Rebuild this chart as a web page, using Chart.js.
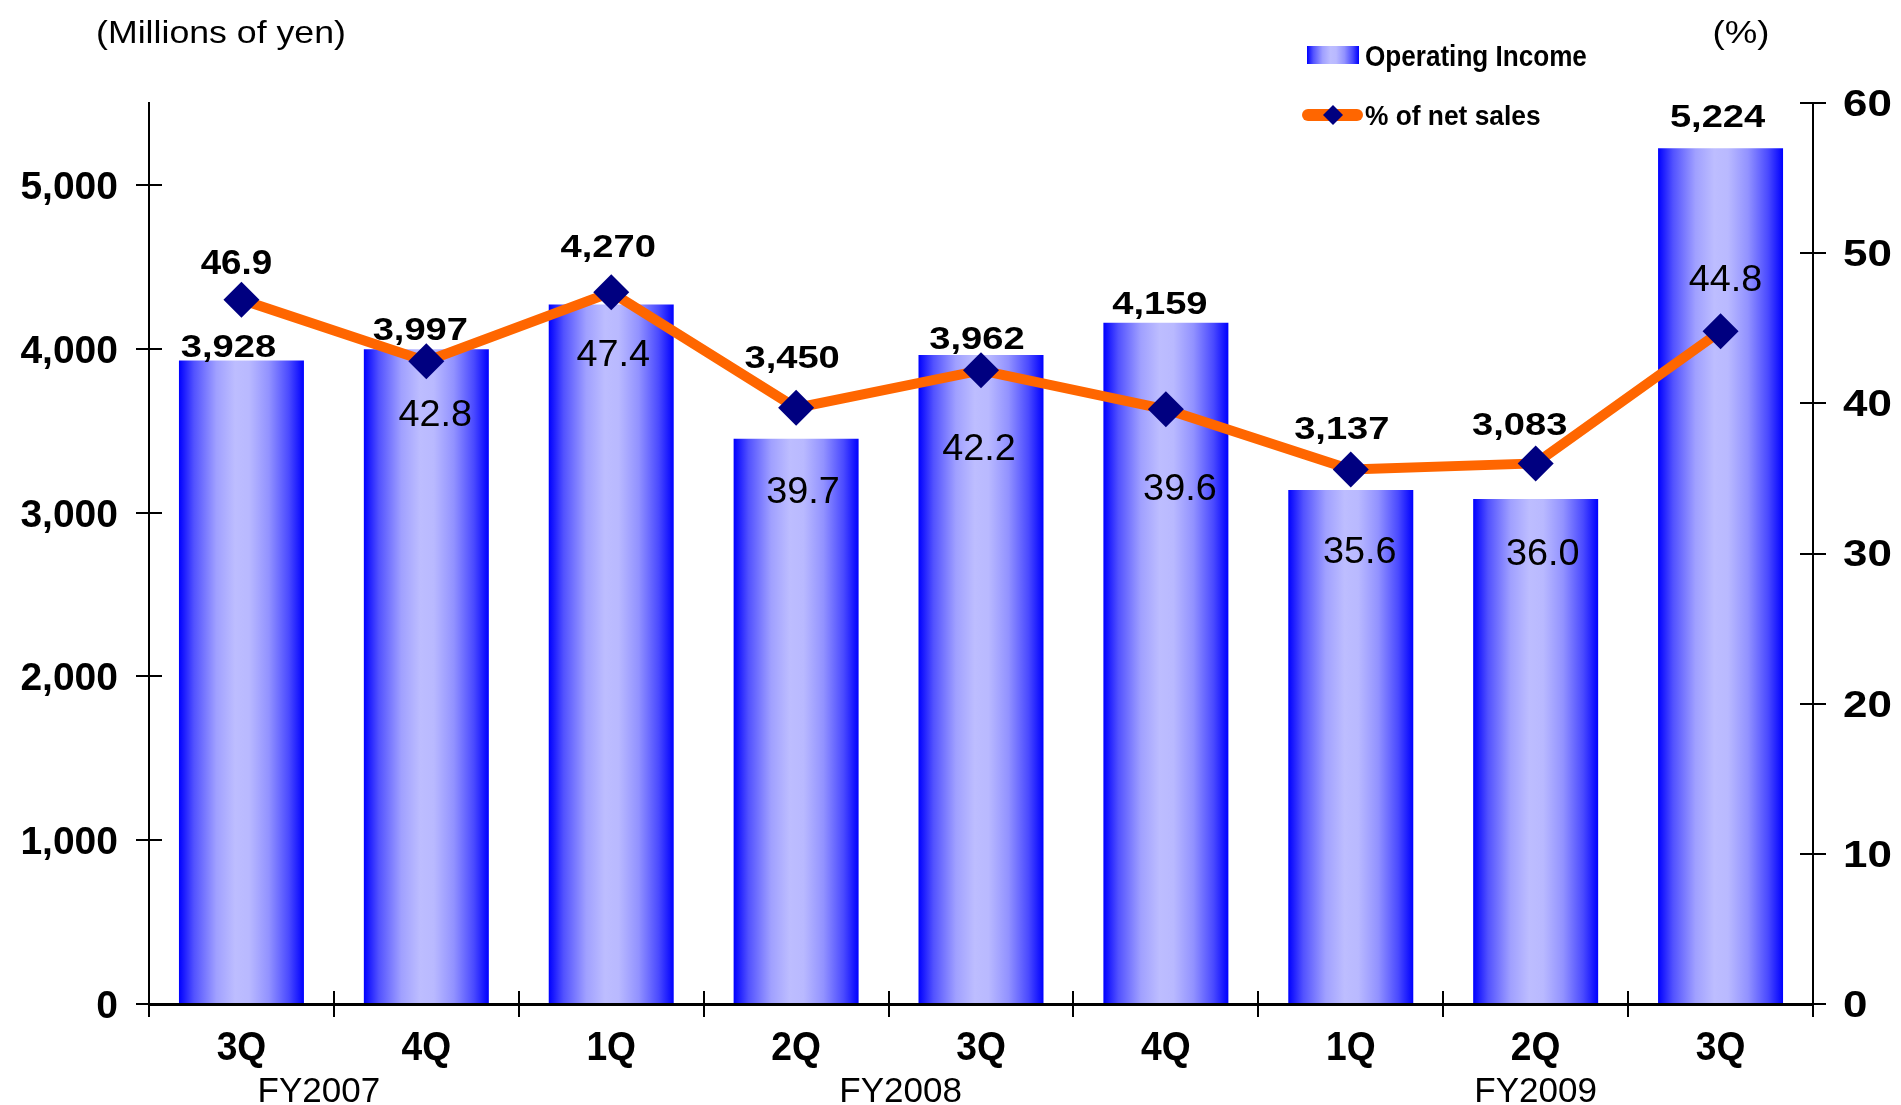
<!DOCTYPE html>
<html>
<head>
<meta charset="utf-8">
<script src="https://cdn.jsdelivr.net/npm/chart.js@4.4.1/dist/chart.umd.min.js"></script>
<style>
  html, body { margin: 0; padding: 0; background: #ffffff; }
  #wrap { width: 1901px; height: 1105px; }
</style>
</head>
<body>
<div id="wrap"><canvas id="c" width="1901" height="1105"></canvas></div>
<script>
// ---------------- data ----------------
const categories = ['3Q', '4Q', '1Q', '2Q', '3Q', '4Q', '1Q', '2Q', '3Q'];
const fiscalYears = ['FY2007', 'FY2008', 'FY2009'];
const fiscalYearFirst = [0, 2, 6];
const fiscalYearLast = [1, 5, 8];
const operatingIncome = [3928, 3997, 4270, 3450, 3962, 4159, 3137, 3083, 5224];
const pctOfNetSales = [46.9, 42.8, 47.4, 39.7, 42.2, 39.6, 35.6, 36.0, 44.8];
const leftAxisMax = 5500;
const leftTickValues = [0, 1000, 2000, 3000, 4000, 5000];
const rightAxisMax = 60;
const rightTickValues = [0, 10, 20, 30, 40, 50, 60];
const seriesNames = ['Operating Income', '% of net sales'];
const unitLeft = '(Millions of yen)';
const unitRight = '(%)';

// ---------------- layout / style (not data) ----------------
const BAR_PCT = 0.676;
const FONT = '"Liberation Sans", Arial, Helvetica, sans-serif';
const barLabelAnchor = ['bar', 'bar', 'point', 'point', 'bar', 'bar', 'point', 'point', 'bar'];
const barLabelDy = [-15, -21, -47, -51, -17, -20, -42, -40, -33];
const barLabelDx = [-13, -6, -3, -4, -4, -6, -9, -16, -3];
const pctLabelDy = [-38, 52, 61, 82, 77, 78, 81, 89, -53];
const pctLabelDx = [-5, 9, 2, 7, -2, 14, 9, 7, 5];
const pctLabelBold = [true, false, false, false, false, false, false, false, false];
const fyDx = [-15, 12, 0];

function barGradient(ctx, x0, x1) {
  const g = ctx.createLinearGradient(x0, 0, x1, 0);
  g.addColorStop(0.00, '#0000ff');
  g.addColorStop(0.12, '#5252ff');
  g.addColorStop(0.30, '#a0a0ff');
  g.addColorStop(0.45, '#bdbdff');
  g.addColorStop(0.56, '#b9b9ff');
  g.addColorStop(0.72, '#9292ff');
  g.addColorStop(0.88, '#4a4aff');
  g.addColorStop(1.00, '#0000ff');
  return g;
}

function drawText(ctx, s, x, y, o) {
  ctx.save();
  ctx.translate(x, y);
  ctx.scale(o.sx || 1, o.sy || 1);
  ctx.font = (o.bold ? 'bold ' : '') + o.size + 'px ' + FONT;
  ctx.fillStyle = '#000000';
  ctx.textAlign = o.align || 'center';
  ctx.textBaseline = 'alphabetic';
  ctx.fillText(s, 0, o.size * 0.358);
  ctx.restore();
}

const TICK_IN = 13;

const decorPlugin = {
  id: 'decor',
  afterDatasetsDraw(chart) {
    const ctx = chart.ctx;
    const xs = chart.scales.x, ys = chart.scales.y, y1 = chart.scales.y1;
    for (let i = 0; i < categories.length; i++) {
      const cx = xs.getPixelForValue(i);
      const barTop = ys.getPixelForValue(operatingIncome[i]);
      const pt = y1.getPixelForValue(pctOfNetSales[i]);
      const anchorY = barLabelAnchor[i] === 'point' ? pt : barTop;
      drawText(ctx, operatingIncome[i].toLocaleString('en-US'), cx + barLabelDx[i], anchorY + barLabelDy[i],
        {size: 32, bold: true, sx: 1.19});
      drawText(ctx, pctOfNetSales[i].toFixed(1), cx + pctLabelDx[i], pt + pctLabelDy[i],
        {size: pctLabelBold[i] ? 35 : 36, bold: pctLabelBold[i], sx: 1.05});
    }
  },
  afterDraw(chart) {
    const ctx = chart.ctx;
    const xs = chart.scales.x, ys = chart.scales.y, y1 = chart.scales.y1;
    const area = chart.chartArea;
    ctx.save();
    ctx.strokeStyle = '#000000';
    ctx.lineWidth = 2;
    ctx.beginPath();
    ys.ticks.forEach(t => {
      const p = Math.round(ys.getPixelForValue(t.value));
      ctx.moveTo(area.left, p); ctx.lineTo(area.left + TICK_IN, p);
    });
    y1.ticks.forEach(t => {
      const p = Math.round(y1.getPixelForValue(t.value));
      ctx.moveTo(area.right - TICK_IN, p); ctx.lineTo(area.right, p);
    });
    const catW = xs.width / categories.length;
    for (let i = 1; i < categories.length; i++) {
      const p = Math.round(xs.getPixelForValue(i) - catW / 2);
      ctx.moveTo(p, area.bottom - TICK_IN); ctx.lineTo(p, area.bottom);
    }
    ctx.stroke();
    ctx.restore();

    ys.ticks.forEach(t => {
      drawText(ctx, t.value.toLocaleString('en-US'), 118, ys.getPixelForValue(t.value),
        {size: 39, bold: true, align: 'right'});
    });
    y1.ticks.forEach(t => {
      drawText(ctx, String(t.value), 1843, y1.getPixelForValue(t.value),
        {size: 36, bold: true, align: 'left', sx: 1.22});
    });
    categories.forEach((c, i) => {
      drawText(ctx, c, xs.getPixelForValue(i), 1046, {size: 40, bold: true, sx: 0.93});
    });
    fiscalYears.forEach((fy, k) => {
      const cx = (xs.getPixelForValue(fiscalYearFirst[k]) + xs.getPixelForValue(fiscalYearLast[k])) / 2;
      drawText(ctx, fy, cx + fyDx[k], 1089, {size: 35});
    });

    drawText(ctx, unitLeft, 221, 32, {size: 30.5, sx: 1.17});
    drawText(ctx, unitRight, 1741, 32, {size: 30.5, sx: 1.2});

    ctx.save();
    ctx.fillStyle = barGradient(ctx, 1307, 1359);
    ctx.fillRect(1307, 46, 52, 18);
    ctx.strokeStyle = '#ff6600';
    ctx.lineWidth = 12;
    ctx.lineCap = 'round';
    ctx.beginPath(); ctx.moveTo(1308, 115); ctx.lineTo(1357, 115); ctx.stroke();
    ctx.fillStyle = '#000080';
    ctx.beginPath();
    ctx.moveTo(1333, 105); ctx.lineTo(1343, 115); ctx.lineTo(1333, 125); ctx.lineTo(1323, 115);
    ctx.closePath(); ctx.fill();
    ctx.restore();
    drawText(ctx, seriesNames[0], 1365, 56, {size: 29, bold: true, align: 'left', sx: 0.9});
    drawText(ctx, seriesNames[1], 1365, 115, {size: 28, bold: true, align: 'left', sx: 0.94});
  }
};

const axisGrid = {drawOnChartArea: false, drawTicks: true, tickLength: 13, color: '#000000', lineWidth: 2};

new Chart(document.getElementById('c'), {
  data: {
    labels: categories,
    datasets: [
      {
        type: 'line',
        label: seriesNames[1],
        data: pctOfNetSales,
        yAxisID: 'y1',
        order: 0,
        borderColor: '#ff6600',
        borderWidth: 10,
        tension: 0,
        fill: false,
        pointStyle: 'rectRot',
        pointRadius: 18,
        pointHoverRadius: 18,
        pointBackgroundColor: '#000080',
        pointBorderColor: '#000080',
        pointBorderWidth: 0
      },
      {
        type: 'bar',
        label: seriesNames[0],
        data: operatingIncome,
        yAxisID: 'y',
        order: 1,
        barPercentage: BAR_PCT,
        categoryPercentage: 1.0,
        borderWidth: 0,
        backgroundColor: (c) => {
          const chart = c.chart;
          const xs = chart.scales && chart.scales.x;
          if (!xs || c.dataIndex === undefined) return '#0000ff';
          const cx = xs.getPixelForValue(c.dataIndex);
          const w = xs.width / categories.length * BAR_PCT;
          if (!isFinite(cx) || !isFinite(w) || w <= 0) return '#0000ff';
          return barGradient(chart.ctx, cx - w / 2, cx + w / 2);
        }
      }
    ]
  },
  options: {
    responsive: false,
    animation: false,
    devicePixelRatio: 1,
    events: [],
    layout: {padding: {left: 136, right: 75, top: 103, bottom: 88}},
    plugins: {legend: {display: false}, tooltip: {enabled: false}, title: {display: false}},
    scales: {
      x: {
        type: 'category',
        offset: true,
        grid: Object.assign({offset: true}, axisGrid),
        border: {color: '#000000', width: 3},
        ticks: {display: false}
      },
      y: {
        position: 'left',
        min: 0,
        max: leftAxisMax,
        afterBuildTicks: (scale) => { scale.ticks = leftTickValues.map(v => ({value: v})); },
        ticks: {display: false},
        grid: axisGrid,
        border: {color: '#000000', width: 2}
      },
      y1: {
        position: 'right',
        min: 0,
        max: rightAxisMax,
        afterBuildTicks: (scale) => { scale.ticks = rightTickValues.map(v => ({value: v})); },
        ticks: {display: false},
        grid: axisGrid,
        border: {color: '#000000', width: 2}
      }
    }
  },
  plugins: [decorPlugin]
});
</script>
</body>
</html>
